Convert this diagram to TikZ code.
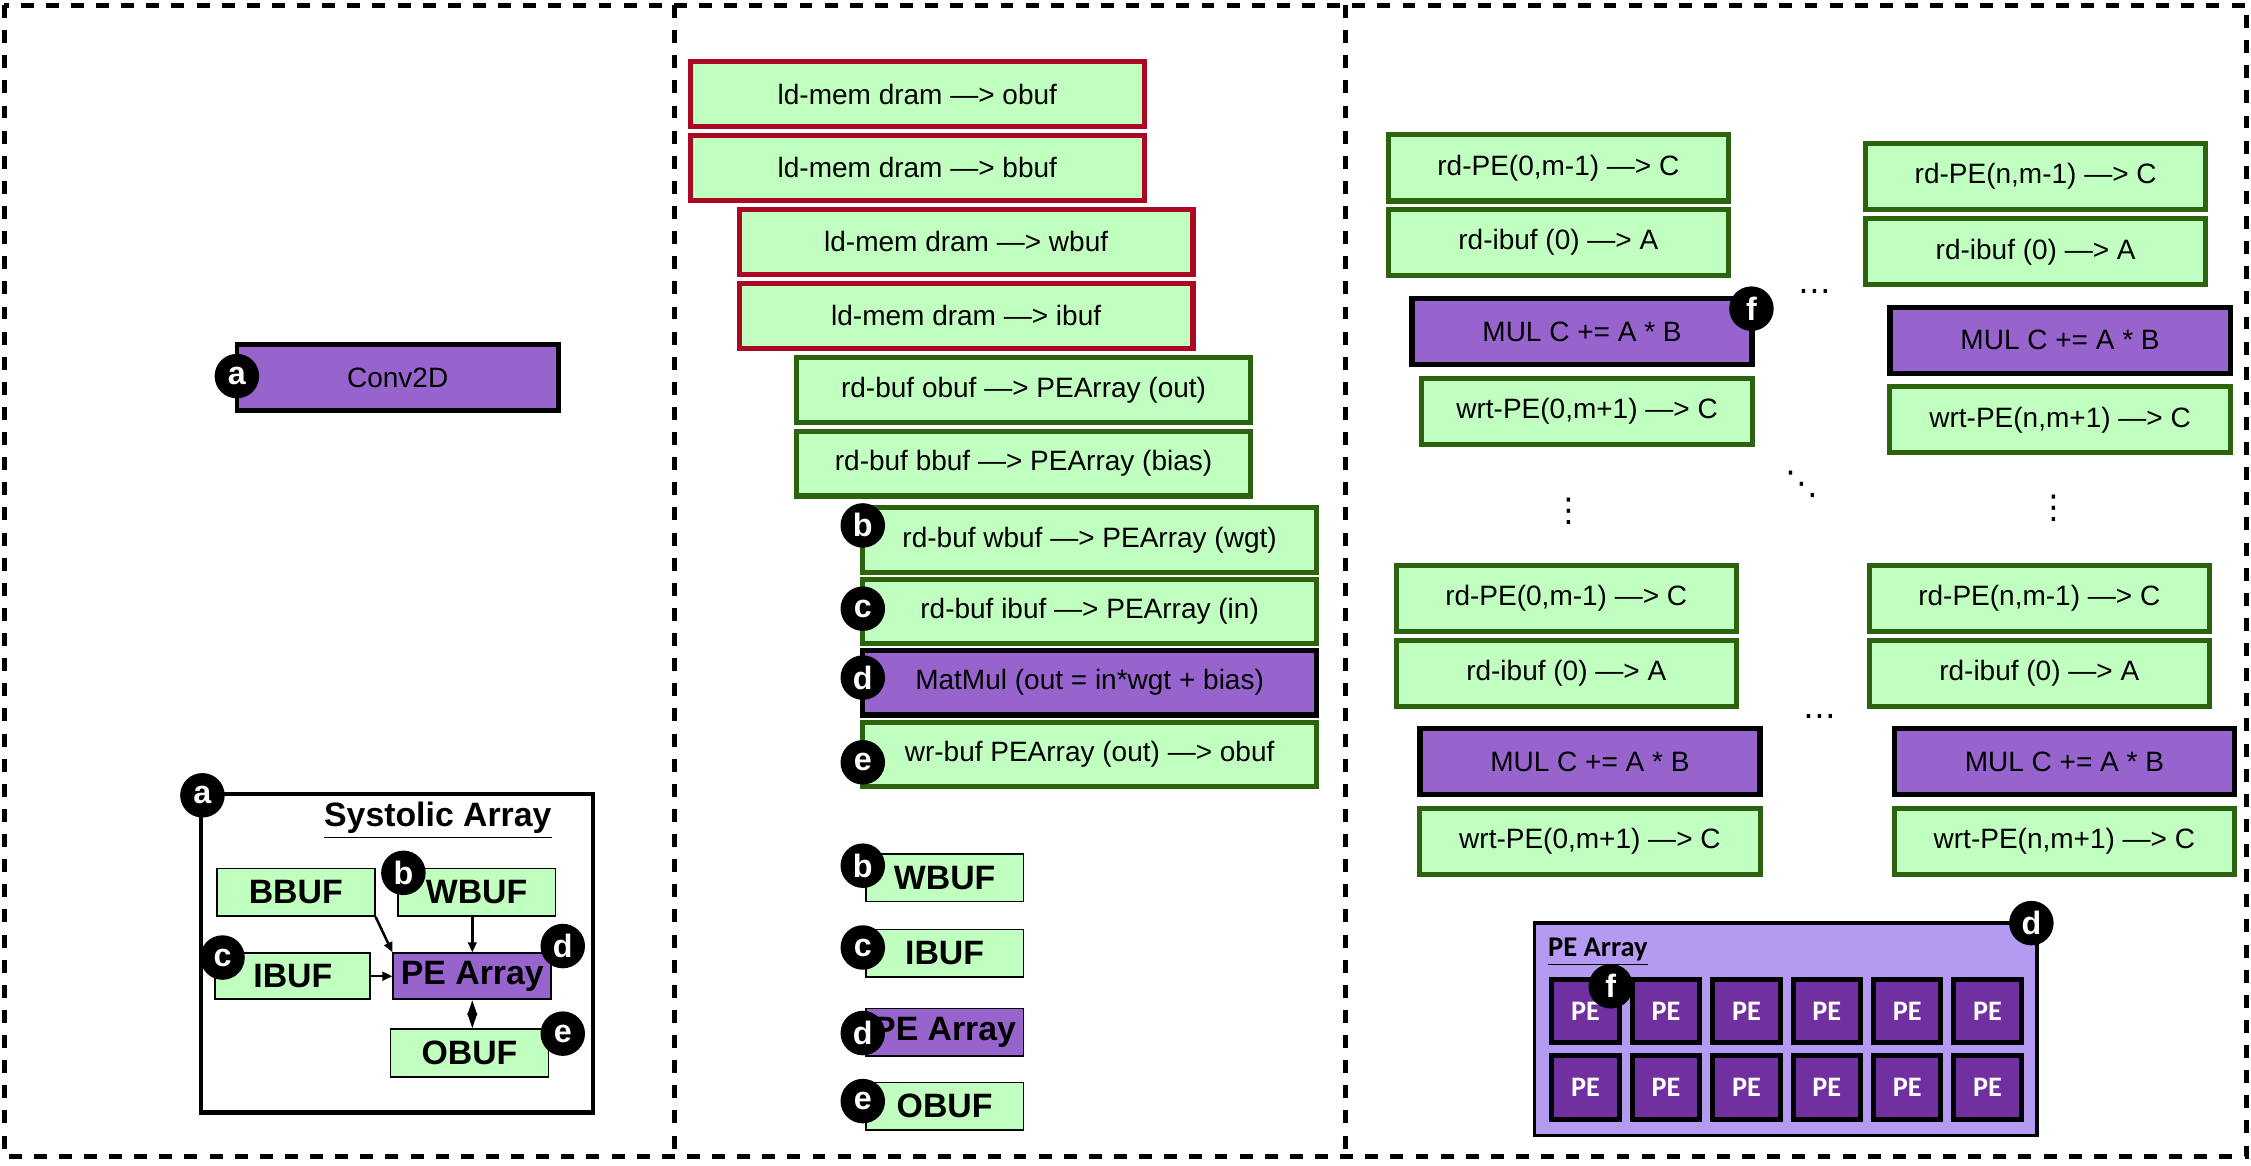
\documentclass[tikz,border=0pt]{standalone}
\usepackage{fontspec}
\setmainfont{Liberation Sans}
\newfontfamily\calfont{Carlito}
\newfontfamily\dejafont{DejaVu Sans}
\usetikzlibrary{arrows.meta}
\definecolor{lgreen}{RGB}{192,255,192}
\definecolor{ldred}{RGB}{172,8,36}
\definecolor{rdgreen}{RGB}{44,99,14}
\definecolor{oppurple}{RGB}{151,100,206}
\definecolor{pearr}{RGB}{180,154,240}
\definecolor{pecell}{RGB}{112,48,160}
\begin{document}
\begin{tikzpicture}
[x=0.2mm,y=-0.2mm,
ar/.style={-{Triangle[length=1.4mm,width=1.2mm]},line width=0.35mm},
dar/.style={{Triangle[length=2.1mm,width=1.3mm]}-{Triangle[length=2.1mm,width=1.3mm]},line width=0.35mm},
bx/.style={rectangle,inner sep=0pt,font=\fontsize{11.1}{13}\selectfont},
ld/.style={bx,draw=ldred,fill=lgreen,line width=0.7mm,minimum width=63.2mm,minimum height=9mm},
rd/.style={bx,draw=rdgreen,fill=lgreen,line width=0.7mm,minimum width=63.2mm,minimum height=9mm},
op/.style={bx,draw=black,fill=oppurple,line width=0.75mm,minimum width=63.2mm,minimum height=9mm},
nar/.style={minimum width=47.4mm,minimum height=9.2mm},
buf/.style={rectangle,draw=black,fill=lgreen,line width=0.25mm,inner sep=0pt,minimum width=22mm,minimum height=6.6mm,font=\bfseries\fontsize{13.4}{16}\selectfont},
bdg/.style={circle,fill=black,text=white,inner sep=0pt,minimum size=6.2mm,font=\bfseries\fontsize{12.8}{14}\selectfont},
pe/.style={rectangle,draw=black,fill=pecell,line width=0.7mm,inner sep=0pt,minimum width=9.4mm,minimum height=8.8mm,text=white,font=\calfont\bfseries\fontsize{11.2}{13}\selectfont},
pnl/.style={line width=0.7mm,dash pattern=on 1.8mm off 1.7mm},
dt/.style={inner sep=0pt,font=\dejafont\fontsize{13}{15}\selectfont}]
\useasboundingbox (0,0) rectangle (1568,812);
% panels
\draw [pnl] (3,3.5) rectangle (1565,805.5);
\draw [pnl] (469.5,3.5) -- (469.5,805.5);
\draw [pnl] (937,3.5) -- (937,805.5);

% layer and systolic array
\node [op,minimum width=44.8mm,minimum height=9.2mm,line width=0.65mm] at (277,263) (conv) {Conv2D};
\node [draw=black,line width=0.6mm,inner sep=0pt,minimum width=54.6mm,minimum height=44.4mm] at (276.5,664) (sys) {};
\node [anchor=base,inner sep=0pt,font=\bfseries\fontsize{13.4}{16}\selectfont] at (305,576) (sysT) {\underline{Systolic Array}};
\node [buf] at (206,621.5) (bbuf) {BBUF};
\node [buf] at (332,621.5) (wbuf) {WBUF};
\node [buf,minimum width=21.6mm,minimum height=6.4mm] at (204,680) (ibuf) {IBUF};
\node [buf,fill=oppurple,minimum height=6.4mm] at (329,680) (pe) {PE Array};
\node [buf] at (327,733.5) (obuf) {OBUF};

\draw [ar] (bbuf.south east) -- (pe.north west);
\draw [ar] (wbuf.south -| pe.north) -- (pe.north);
\draw [ar] (ibuf.east) -- (pe.west);
\draw [dar] (pe.south) -- (pe.south |- obuf.north);

\node [bdg] at (165,262) (a1) {a};
\node [bdg] at (141,554) (a2) {a};
\node [bdg] at (281,608) (b1) {b};
\node [bdg] at (155,667) (c1) {c};
\node [bdg] at (392,659) (d1) {d};
\node [bdg] at (392,720) (e1) {e};

% instruction stream
\node [ld] at (639,65.5) (ldO) {ld-mem dram —> obuf};
\node [ld] at (639,117) (ldB) {ld-mem dram —> bbuf};
\node [ld] at (673,168.5) (ldW) {ld-mem dram —> wbuf};
\node [ld] at (673,220) (ldI) {ld-mem dram —> ibuf};
\node [rd] at (713,271.5) (rdO) {rd-buf obuf —> PEArray (out)};
\node [rd] at (713,323) (rdB) {rd-buf bbuf —> PEArray (bias)};
\node [rd] at (759,376) (rdW) {rd-buf wbuf —> PEArray (wgt)};
\node [rd] at (759,426) (rdI) {rd-buf ibuf —> PEArray (in)};
\node [op] at (759,475.5) (mmul) {MatMul (out = in*wgt + bias)};
\node [rd] at (759,525.5) (wrO) {wr-buf PEArray (out) —> obuf};

\node [buf] at (658,611.5) (wbuf2) {WBUF};
\node [buf] at (658,664) (ibuf2) {IBUF};
\node [buf,fill=oppurple] at (658,719) (pe2) {PE Array};
\node [buf] at (658,770.5) (obuf2) {OBUF};

\node [bdg] at (601,366) (b2) {b};
\node [bdg] at (601,424) (c2) {c};
\node [bdg] at (601,472) (d2) {d};
\node [bdg] at (601,531) (e2) {e};
\node [bdg] at (601,603) (b3) {b};
\node [bdg] at (601,660) (c3) {c};
\node [bdg] at (601,719.6) (d3) {d};
\node [bdg] at (601,767) (e3) {e};

% per PE operations
\node [rd,nar] at (1085.5,117) (pA1) {rd-PE(0,m-1) —> C};
\node [rd,nar] at (1085.5,169) (pA2) {rd-ibuf (0) —> A};
\node [op,nar] at (1102,231) (pA3) {MUL C += A * B};
\node [rd,nar,minimum width=46.2mm] at (1105.5,286.5) (pA4) {wrt-PE(0,m+1) —> C};
\node [rd,nar] at (1418,123) (pB1) {rd-PE(n,m-1) —> C};
\node [rd,nar] at (1418,175.5) (pB2) {rd-ibuf (0) —> A};
\node [op,nar] at (1435,237) (pB3) {MUL C += A * B};
\node [rd,nar] at (1435,292.5) (pB4) {wrt-PE(n,m+1) —> C};
\node [rd,nar] at (1091,417) (pC1) {rd-PE(0,m-1) —> C};
\node [rd,nar] at (1091,469) (pC2) {rd-ibuf (0) —> A};
\node [op,nar] at (1107.5,530.5) (pC3) {MUL C += A * B};
\node [rd,nar] at (1107.5,586) (pC4) {wrt-PE(0,m+1) —> C};
\node [rd,nar] at (1420.5,417) (pD1) {rd-PE(n,m-1) —> C};
\node [rd,nar] at (1420.5,469) (pD2) {rd-ibuf (0) —> A};
\node [op,nar] at (1438,530.5) (pD3) {MUL C += A * B};
\node [rd,nar] at (1438,586) (pD4) {wrt-PE(n,m+1) —> C};

\node [dt] at (1264,203) (hd1) {…};
\node [dt] at (1268,499) (hd2) {…};
\node [dt] at (1093,356) (vd1) {⋮};
\node [dt] at (1431,354) (vd2) {⋮};
\node [dt] at (1255,337) (dd) {⋱};
\node [bdg] at (1220,215) (f1) {f};

% PE array
\node [draw=black,fill=pearr,line width=0.5mm,inner sep=0pt,minimum width=70mm,minimum height=29.6mm] at (1244,717) (arr) {};
\node [anchor=base west,inner sep=0pt,font=\calfont\bfseries\fontsize{11.3}{13}\selectfont] at (1078,666) (arrT) {\underline{PE Array}};
\node [pe] at (1104.5,704.5) (pe11) {PE};
\node [pe] at (1160.5,704.5) (pe12) {PE};
\node [pe] at (1216.5,704.5) (pe13) {PE};
\node [pe] at (1272.5,704.5) (pe14) {PE};
\node [pe] at (1328.5,704.5) (pe15) {PE};
\node [pe] at (1384.5,704.5) (pe16) {PE};
\node [pe] at (1104.5,757.5) (pe21) {PE};
\node [pe] at (1160.5,757.5) (pe22) {PE};
\node [pe] at (1216.5,757.5) (pe23) {PE};
\node [pe] at (1272.5,757.5) (pe24) {PE};
\node [pe] at (1328.5,757.5) (pe25) {PE};
\node [pe] at (1384.5,757.5) (pe26) {PE};
\node [bdg] at (1415,643) (d4) {d};
\node [bdg] at (1122,687) (f2) {f};
\end{tikzpicture}
\end{document}
